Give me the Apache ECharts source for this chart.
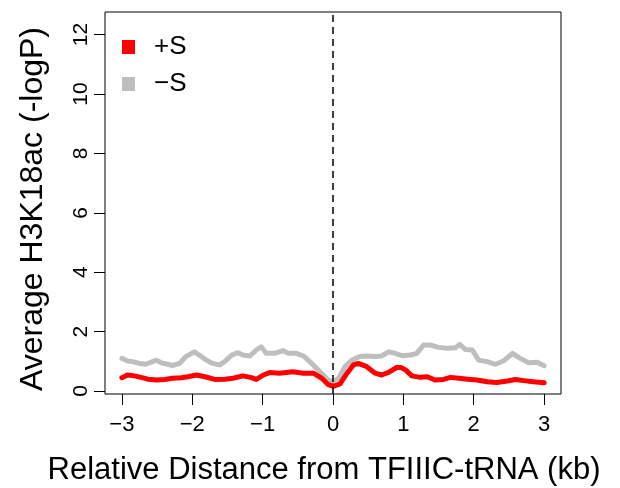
<!DOCTYPE html>
<html>
<head>
<meta charset="utf-8">
<script src="https://cdn.jsdelivr.net/npm/echarts@6/dist/echarts.min.js"></script>
<style>
  html, body { margin: 0; padding: 0; background: #fff; }
  #chart { width: 620px; height: 488px; }
</style>
</head>
<body>
<div id="chart"></div>
<script>
// Average H3K18ac signal around TFIIIC-bound tRNA genes (position in kb)
const posPlus = [-3.00, -2.92, -2.82, -2.73, -2.63, -2.51, -2.39, -2.28, -2.16, -2.06, -1.94, -1.82, -1.68, -1.54, -1.42, -1.28, -1.16, -1.09, -0.99, -0.90, -0.76, -0.57, -0.42, -0.28, -0.16, -0.07, 0.01, 0.10, 0.20, 0.29, 0.36, 0.48, 0.60, 0.69, 0.79, 0.91, 0.97, 1.03, 1.12, 1.24, 1.34, 1.45, 1.57, 1.67, 1.79, 1.91, 2.05, 2.19, 2.33, 2.48, 2.59, 2.71, 2.85, 3.00];
const valPlus = [0.45, 0.54, 0.51, 0.46, 0.40, 0.37, 0.39, 0.43, 0.45, 0.48, 0.54, 0.48, 0.39, 0.40, 0.43, 0.51, 0.45, 0.39, 0.54, 0.62, 0.60, 0.65, 0.60, 0.60, 0.43, 0.22, 0.16, 0.24, 0.60, 0.88, 0.93, 0.82, 0.60, 0.54, 0.63, 0.80, 0.79, 0.71, 0.51, 0.46, 0.48, 0.37, 0.39, 0.46, 0.43, 0.40, 0.37, 0.31, 0.29, 0.34, 0.39, 0.35, 0.31, 0.28];

const posMinus = [-3.00, -2.92, -2.85, -2.75, -2.66, -2.61, -2.51, -2.44, -2.35, -2.28, -2.18, -2.09, -1.97, -1.90, -1.80, -1.71, -1.61, -1.54, -1.44, -1.35, -1.28, -1.18, -1.09, -1.02, -0.95, -0.83, -0.71, -0.64, -0.52, -0.42, -0.33, -0.23, -0.14, -0.07, 0.00, 0.08, 0.17, 0.27, 0.38, 0.48, 0.60, 0.69, 0.79, 0.88, 0.98, 1.10, 1.19, 1.29, 1.38, 1.50, 1.62, 1.74, 1.80, 1.88, 1.98, 2.07, 2.19, 2.31, 2.43, 2.55, 2.66, 2.78, 2.90, 3.00];
const valMinus = [1.10, 1.01, 0.99, 0.93, 0.90, 0.95, 1.04, 0.95, 0.90, 0.86, 0.93, 1.16, 1.32, 1.21, 1.04, 0.93, 0.88, 0.99, 1.21, 1.29, 1.21, 1.18, 1.38, 1.49, 1.27, 1.27, 1.36, 1.27, 1.27, 1.18, 0.99, 0.76, 0.54, 0.37, 0.31, 0.43, 0.82, 1.04, 1.16, 1.18, 1.16, 1.18, 1.32, 1.27, 1.19, 1.21, 1.27, 1.55, 1.55, 1.47, 1.44, 1.46, 1.57, 1.40, 1.38, 1.04, 0.99, 0.90, 1.02, 1.27, 1.10, 0.95, 0.97, 0.85];

const xTicks = [-3, -2, -1, 0, 1, 2, 3];
const yTicks = [0, 2, 4, 6, 8, 10, 12];

const seriesNames = ['+S', '\u2212S'];
const seriesColors = ['#FF0000', '#BEBEBE'];

const FONT = '"Liberation Sans", Arial, Helvetica, sans-serif';

function pairs(xs, ys) {
  return xs.map((x, i) => [x, ys[i]]);
}
function minusLabel(v) {
  return v < 0 ? '\u2212' + Math.abs(v) : String(v);
}

const chart = echarts.init(document.getElementById('chart'), null, { renderer: 'canvas' });

chart.setOption({
  animation: false,
  backgroundColor: '#ffffff',
  textStyle: { fontFamily: FONT },
  grid: {
    left: 105, right: 59, top: 12, bottom: 94,
    show: true, borderColor: '#000', borderWidth: 1,
    outerBoundsMode: 'none'
  },
  legend: {
    orient: 'vertical',
    left: 122, top: 34,
    padding: 0,
    itemGap: 11,
    itemWidth: 13, itemHeight: 14,
    icon: 'rect',
    data: [
      { name: seriesNames[0], itemStyle: { color: seriesColors[0] } },
      { name: seriesNames[1], itemStyle: { color: seriesColors[1] } }
    ],
    textStyle: { fontFamily: FONT, fontSize: 26, color: '#000', padding: [0, 0, 0, 14] }
  },
  xAxis: {
    type: 'value',
    min: -3.24, max: 3.24,
    name: 'Relative Distance from TFIIIC-tRNA (kb)',
    nameLocation: 'middle',
    nameGap: 61,
    nameTextStyle: { fontFamily: FONT, fontSize: 31, color: '#000', padding: [0, 18, 0, 0] },
    axisLine: { show: false, onZero: false },
    splitLine: { show: false },
    axisTick: { show: true, inside: false, length: 11, customValues: xTicks, lineStyle: { color: '#000', width: 1 } },
    axisLabel: { customValues: xTicks, formatter: minusLabel, fontFamily: FONT, fontSize: 22, color: '#000', margin: 20 }
  },
  yAxis: {
    type: 'value',
    min: -0.1, max: 12.76,
    name: 'Average H3K18ac (-logP)',
    nameLocation: 'middle',
    nameGap: 56,
    nameTextStyle: { fontFamily: FONT, fontSize: 32, color: '#000', padding: [0, 12, 0, 0] },
    axisLine: { show: false, onZero: false },
    splitLine: { show: false },
    axisTick: { show: true, inside: false, length: 11, customValues: yTicks, lineStyle: { color: '#000', width: 1 } },
    axisLabel: { customValues: yTicks, rotate: 90, fontFamily: FONT, fontSize: 21, color: '#000', margin: 13 }
  },
  series: [
    {
      name: seriesNames[1],
      type: 'line',
      data: pairs(posMinus, valMinus),
      showSymbol: false,
      color: seriesColors[1],
      lineStyle: { color: seriesColors[1], width: 5, cap: 'round', join: 'round' },
      z: 2
    },
    {
      name: seriesNames[0],
      type: 'line',
      data: pairs(posPlus, valPlus),
      showSymbol: false,
      color: seriesColors[0],
      lineStyle: { color: seriesColors[0], width: 5, cap: 'round', join: 'round' },
      z: 3,
      markLine: {
        silent: true,
        symbol: 'none',
        label: { show: false },
        lineStyle: { color: '#000', width: 1.5, type: [7, 5] },
        data: [{ xAxis: 0 }]
      }
    }
  ]
});
</script>
</body>
</html>
